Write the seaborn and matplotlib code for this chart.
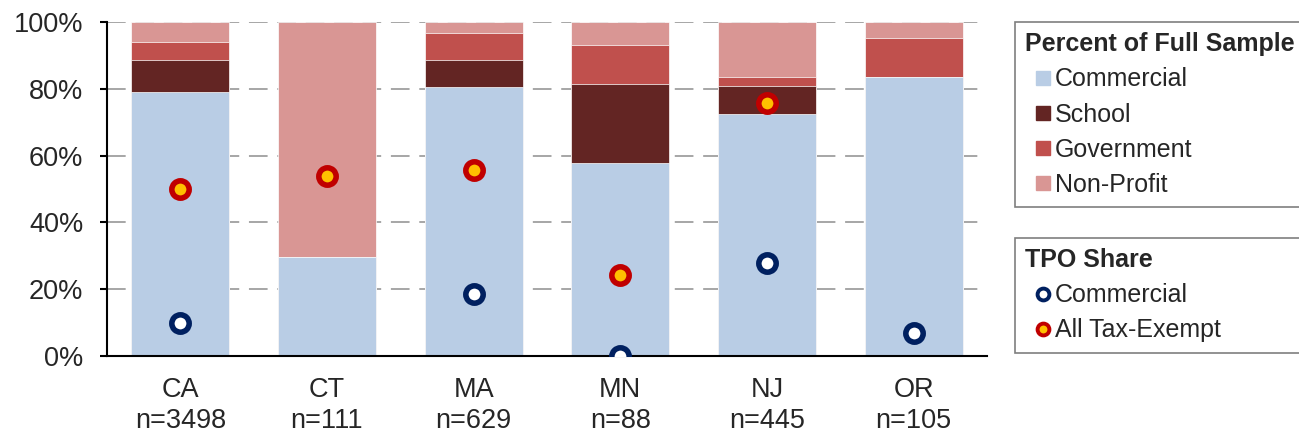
import numpy as np
import pandas as pd
import matplotlib
matplotlib.use("Agg")
import matplotlib.pyplot as plt
from matplotlib.lines import Line2D
from matplotlib.ticker import PercentFormatter
import seaborn as sns

# data
states = ["CA", "CT", "MA", "MN", "NJ", "OR"]
sample_n = [3498, 111, 629, 88, 445, 105]

# percent of full sample by owner type
commercial = [79.0, 29.5, 80.5, 57.8, 72.4, 83.6]
school = [9.6, 0.0, 8.1, 23.7, 8.5, 0.0]
government = [5.5, 0.0, 8.2, 11.7, 2.7, 11.7]
non_profit = [5.9, 70.5, 3.2, 6.8, 16.4, 4.7]

# TPO share (missing where not shown)
tpo_commercial = [10.0, np.nan, 18.6, 0.0, 27.7, 7.0]
tpo_exempt = [50.0, 54.0, 55.6, 24.3, 75.8, np.nan]

layers = ["Commercial", "School", "Government", "Non-Profit"]
colors = {"Commercial": "#B9CDE5", "School": "#632523",
          "Government": "#C0504D", "Non-Profit": "#D99694"}

sns.set_style("white")
plt.rcParams["font.family"] = ["Liberation Sans", "DejaVu Sans"]

labels = [f"{s}\nn={n}" for s, n in zip(states, sample_n)]
df = pd.DataFrame({"label": labels, "Commercial": commercial, "School": school,
                   "Government": government, "Non-Profit": non_profit,
                   "tpo_com": tpo_commercial, "tpo_ex": tpo_exempt})
cum = df[layers].cumsum(axis=1)

fig = plt.figure(figsize=(12.99, 4.34), dpi=100)
ax = fig.add_axes([107 / 1299, 1 - 356 / 434, 880 / 1299, 334 / 434])

# stacked bars: draw cumulative totals from the top layer down
for layer in reversed(layers):
    sns.barplot(x=df["label"], y=cum[layer], order=labels, color=colors[layer],
                saturation=1, width=0.67, edgecolor="white", linewidth=0.5,
                ax=ax)

sns.pointplot(x=df["label"], y=df["tpo_com"], order=labels, errorbar=None,
              linestyle="none", marker="o", color="#002060",
              markerfacecolor="white", markeredgecolor="#002060",
              markersize=12.5, markeredgewidth=4, zorder=5, ax=ax)
sns.pointplot(x=df["label"], y=df["tpo_ex"], order=labels, errorbar=None,
              linestyle="none", marker="o", color="#C00000",
              markerfacecolor="#FFC000", markeredgecolor="#C00000",
              markersize=12.5, markeredgewidth=4, zorder=5, ax=ax)

ax.set_xlim(-0.5, len(labels) - 0.5)
ax.set_ylim(0, 100)
ax.set_yticks([0, 20, 40, 60, 80, 100])
ax.yaxis.set_major_formatter(PercentFormatter(100, decimals=0))
ax.set_xlabel("")
ax.set_ylabel("")
ax.set_axisbelow(True)
ax.yaxis.grid(True, color="#A6A6A6", linewidth=1.4, linestyle=(0, (9.6, 5)))
ax.xaxis.grid(False)
for side in ["top", "right"]:
    ax.spines[side].set_visible(False)
for side in ["left", "bottom"]:
    ax.spines[side].set_color("black")
    ax.spines[side].set_linewidth(1.5)
ax.tick_params(axis="y", labelsize=19.5, length=5, width=1.5, color="black",
               left=True, pad=12)
ax.tick_params(axis="x", labelsize=19.5, length=0, pad=15)
for t in ax.get_xticklabels():
    t.set_linespacing(1.25)

# legends
leg_kw = dict(loc="upper left", mode="expand", alignment="left", fontsize=18,
              title_fontproperties={"weight": "bold", "size": 18},
              frameon=True, fancybox=False, edgecolor="#7F7F7F", framealpha=1,
              borderaxespad=0, handlelength=1.4, handletextpad=-0.2,
              labelspacing=0.45, borderpad=0.4)

h1 = [Line2D([], [], linestyle="none", marker="s", markersize=10,
             markerfacecolor=colors[l], markeredgecolor=colors[l]) for l in layers]
leg1 = fig.legend(h1, layers, title="Percent of Full Sample",
                  bbox_to_anchor=(1015 / 1299, 1 - 22 / 434, 300 / 1299, 0),
                  **leg_kw)
leg1.get_frame().set_linewidth(1.2)

h2 = [Line2D([], [], linestyle="none", marker="o", markersize=8.5,
             markerfacecolor="white", markeredgecolor="#002060",
             markeredgewidth=2.8),
      Line2D([], [], linestyle="none", marker="o", markersize=8.5,
             markerfacecolor="#FFC000", markeredgecolor="#C00000",
             markeredgewidth=2.8)]
leg2 = fig.legend(h2, ["Commercial", "All Tax-Exempt"], title="TPO Share",
                  bbox_to_anchor=(1015 / 1299, 1 - 238 / 434, 300 / 1299, 0),
                  **leg_kw)
leg2.get_frame().set_linewidth(1.2)

fig.savefig("out.png", dpi=100)
